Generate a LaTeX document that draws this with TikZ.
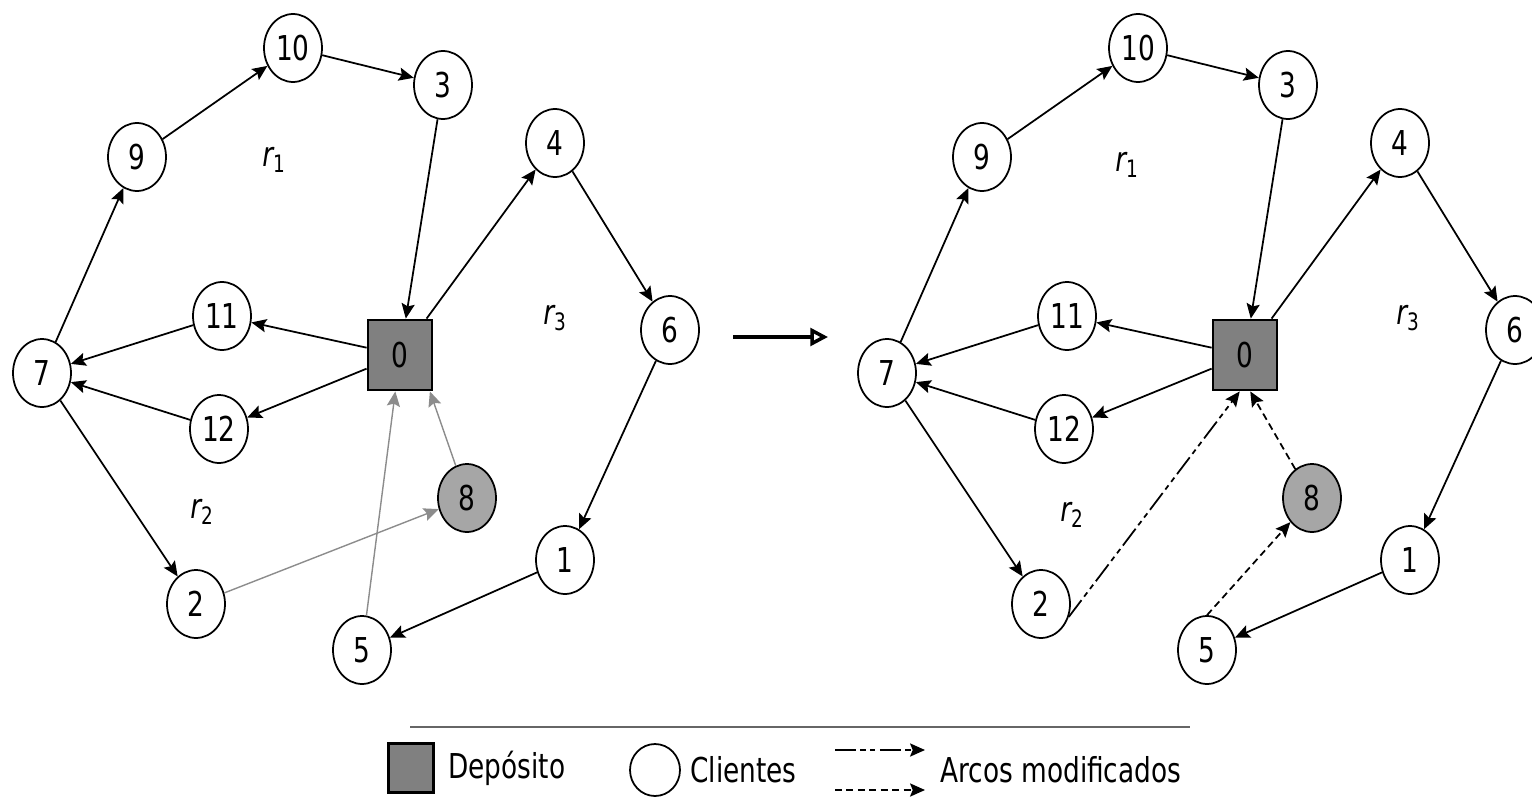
\documentclass[tikz,border=0pt]{standalone}
\usepackage{fontspec}
\setmainfont[FakeStretch=0.77]{DejaVu Sans}
\usetikzlibrary{shapes.geometric,arrows.meta,positioning}

% customers, depot and the arcs shared by both solutions
\newcommand\routenodes{%
  \node[depot] (0) at (400,355) {0};
  \node[client] (10) at (293,48) {10};
  \node[client] (3) at (443,85) {3};
  \node[client] (9) at (137,157) {9};
  \node[client] (4) at (555,143) {4};
  \node[client] (11) at (222,316) {11};
  \node[client] (6) at (670,330) {6};
  \node[client] (7) at (42,373) {7};
  \node[client] (12) at (219,429) {12};
  \node[client, fill=gray!70] (8) at (467,498) {8};
  \node[client] (1) at (565,560) {1};
  \node[client] (2) at (196,604) {2};
  \node[client] (5) at (362,650) {5};
  \foreach \a/\b in {7/9,9/10,10/3,3/0,0/11,11/7,0/12,12/7,7/2,0/4,4/6,6/1,1/5}
    \draw[arc] (\a) -- (\b);
}

\begin{document}
\begin{tikzpicture}[
  x=0.02cm, y=-0.02cm,
  every node/.style={font=\fontsize{19.5}{22}\selectfont},
  client/.style={ellipse, draw, line width=1pt, fill=white,
    minimum width=1.16cm, minimum height=1.36cm, inner sep=0pt},
  depot/.style={rectangle, draw, line width=1.6pt, fill=gray,
    minimum width=1.28cm, minimum height=1.4cm, inner sep=0pt},
  arc/.style={line width=1pt, -{Stealth[length=8.5pt,width=7.5pt,inset=1.5pt]}},
  oldarc/.style={arc, draw=gray!90, line width=0.8pt},
  mixdash/.style={dash pattern=on 12pt off 2.5pt on 3pt off 2.5pt on 3pt off 2.5pt},
  shortdash/.style={dash pattern=on 4pt off 2.5pt},
  route/.style={font=\fontsize{19.5}{22}\selectfont\itshape},
  keytext/.style={anchor=west, inner sep=0pt}
]
\useasboundingbox (0,0) rectangle (1532,798);

% first solution
\begin{scope}[name prefix=a-]
  \routenodes
  \draw[oldarc] (2) -- (8);
  \draw[oldarc] (5) -- (0);
  \draw[oldarc] (8) -- ([xshift=-2pt]0.south east);
  \node[route] (r1) at (274,160) {r\textsubscript{\upshape 1}};
  \node[route] (r2) at (202,512) {r\textsubscript{\upshape 2}};
  \node[route] (r3) at (555,318) {r\textsubscript{\upshape 3}};
\end{scope}

% move between the two solutions
\coordinate (from) at (733,337);
\coordinate (to) at (828,337);
\draw[line width=2pt, -{Triangle[open,length=10pt,width=10pt]}] (from) -- (to);

% second solution
\begin{scope}[shift={(845,0)}, name prefix=b-]
  \routenodes
  \draw[arc, mixdash] (2.-25) -- ([xshift=-3pt]0.south);
  \draw[arc, shortdash] (8) -- ([xshift=3pt]0.south);
  \draw[arc, shortdash] (5.north) -- (8);
  \node[route] (r1) at (282,165) {r\textsubscript{\upshape 1}};
  \node[route] (r2) at (227,515) {r\textsubscript{\upshape 2}};
  \node[route] (r3) at (563,318) {r\textsubscript{\upshape 3}};
\end{scope}

% legend
\draw[gray!80!black, line width=1.5pt] (410,727) -- (1190,727);
\node[depot, minimum width=0.9cm, minimum height=0.98cm] (keydepot) at (411,768) {};
\node[keytext] (keydepottext) at (448,768) {Depósito};
\node[client, minimum width=1cm, minimum height=1.04cm] (keyclient) at (655,770) {};
\node[keytext] (keyclienttext) at (690,770) {Clientes};
\coordinate (k1a) at (835,750);
\coordinate (k1b) at (925,750);
\coordinate (k2a) at (835,790);
\coordinate (k2b) at (925,790);
\draw[arc, mixdash] (k1a) -- (k1b);
\draw[arc, shortdash] (k2a) -- (k2b);
\node[keytext] (keyarctext) at (940,770) {Arcos modificados};
\end{tikzpicture}
\end{document}
